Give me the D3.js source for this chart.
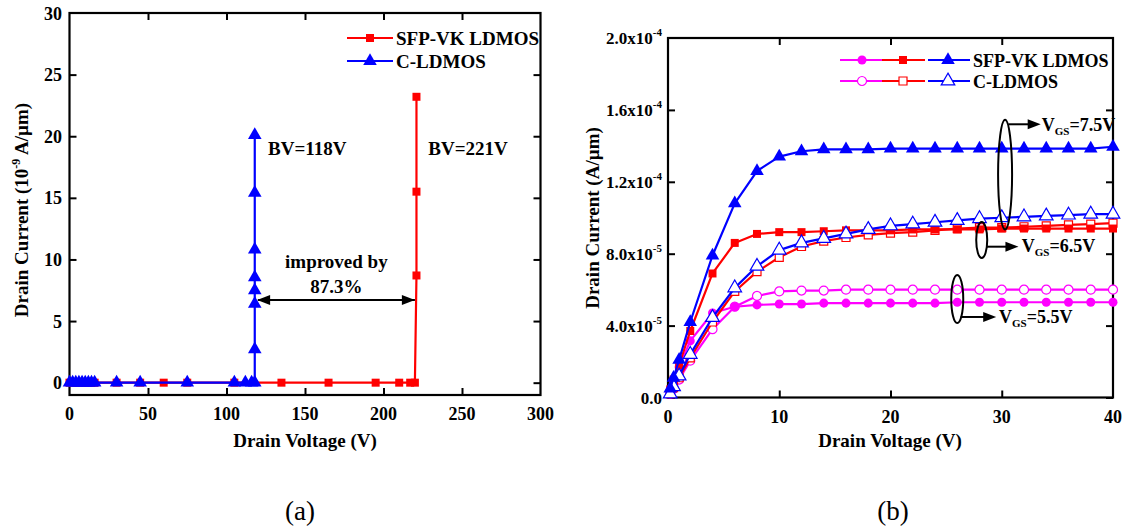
<!DOCTYPE html>
<html>
<head>
<meta charset="utf-8">
<script src="https://cdn.jsdelivr.net/npm/d3@7"></script>
<style>
  html, body { margin: 0; padding: 0; background: #ffffff; }
  svg { display: block; }
  text { font-family: "Liberation Serif", "Times New Roman", serif; }
</style>
</head>
<body>
<svg id="fig" width="1126" height="526"></svg>
<script>
// ---------- (a) breakdown characteristics ----------
const bvSfpVoltage = [0, 2, 4, 6, 8, 10, 12, 14, 16, 30, 45, 60, 75, 105, 135, 165, 195, 210, 217, 220, 221, 221, 221];
const bvSfpCurrent = [0, 0, 0, 0, 0, 0, 0, 0, 0, 0, 0, 0, 0, 0, 0, 0, 0, 0, 0, 0, 8.7, 15.5, 23.2];
const bvConvVoltage = [0, 2, 4, 6, 8, 10, 12, 14, 16, 30, 45, 75, 105, 112, 116, 118, 118, 118, 118, 118, 118, 118, 118];
const bvConvCurrent = [0, 0, 0, 0, 0, 0, 0, 0, 0, 0, 0, 0, 0, 0, 0, 0, 2.7, 6.4, 7.5, 8.55, 10.8, 15.4, 20.1];
const aXTicks = [0, 50, 100, 150, 200, 250, 300];
const aYTicks = [0, 5, 10, 15, 20, 25, 30];
const aLegend = ["SFP-VK LDMOS", "C-LDMOS"];

// ---------- (b) output characteristics (current in A/µm) ----------
const vdsPoints = [0.2, 0.5, 1, 2, 4, 6, 8, 10, 12, 14, 16, 18, 20, 22, 24, 26, 28, 30, 32, 34, 36, 38, 40];
const sfpVgs75 = [0.5, 1.1, 2.1, 4.2, 7.9, 10.8, 12.6, 13.4, 13.7, 13.8, 13.8, 13.8, 13.85, 13.85, 13.85, 13.85, 13.85, 13.85, 13.85, 13.85, 13.85, 13.85, 13.95].map(v => v * 1e-5);
const sfpVgs65 = [0.45, 1.0, 1.8, 3.7, 6.9, 8.6, 9.1, 9.2, 9.2, 9.25, 9.3, 9.3, 9.3, 9.35, 9.35, 9.35, 9.35, 9.4, 9.4, 9.4, 9.4, 9.4, 9.4].map(v => v * 1e-5);
const sfpVgs55 = [0.4, 0.9, 1.7, 3.15, 4.7, 5.05, 5.15, 5.2, 5.2, 5.25, 5.25, 5.25, 5.25, 5.25, 5.25, 5.3, 5.3, 5.3, 5.3, 5.3, 5.3, 5.3, 5.3].map(v => v * 1e-5);
const convVgs75 = [0.2, 0.6, 1.2, 2.4, 4.45, 6.1, 7.3, 8.2, 8.6, 8.85, 9.1, 9.35, 9.55, 9.65, 9.75, 9.85, 9.95, 10.0, 10.05, 10.1, 10.15, 10.2, 10.2].map(v => v * 1e-5);
const convVgs65 = [0.2, 0.55, 1.1, 2.2, 4.2, 5.9, 7.0, 7.8, 8.4, 8.7, 8.9, 9.05, 9.15, 9.2, 9.3, 9.4, 9.45, 9.45, 9.5, 9.55, 9.6, 9.65, 9.7].map(v => v * 1e-5);
const convVgs55 = [0.2, 0.5, 1.0, 2.05, 3.8, 5.05, 5.65, 5.9, 5.95, 5.95, 6.0, 6.0, 6.0, 6.0, 6.0, 6.0, 6.0, 6.0, 6.0, 6.0, 6.0, 6.0, 6.0].map(v => v * 1e-5);
const bXTicks = [0, 10, 20, 30, 40];
const bYTicks = [0, 4e-5, 8e-5, 1.2e-4, 1.6e-4, 2e-4];
const bYTickMantissa = ["0.0", "4.0x10", "8.0x10", "1.2x10", "1.6x10", "2.0x10"];
const bYTickExponent = ["", "-5", "-5", "-4", "-4", "-4"];
const bLegend = ["SFP-VK LDMOS", "C-LDMOS"];
const vgsLabels = ["7.5V", "6.5V", "5.5V"];

const RED = "#ff0000", BLUE = "#0000ff", MAG = "#ff00ff";
const FS = 19;
const svg = d3.select("#fig");
svg.append("rect").attr("width", 1126).attr("height", 526).attr("fill", "#ffffff");

const sym = {
  square: d3.symbol().type(d3.symbolSquare).size(64),
  triangle: d3.symbol().type(d3.symbolTriangle).size(80),
  circle: d3.symbol().type(d3.symbolCircle).size(64)
};

function drawSeries(g, x, y, xs, ys, color, shape, open) {
  const pts = xs.map((v, i) => [v, ys[i]]);
  g.append("path").datum(pts)
    .attr("fill", "none").attr("stroke", color).attr("stroke-width", 2.2)
    .attr("stroke-linejoin", "round")
    .attr("d", d3.line().x(d => x(d[0])).y(d => y(d[1])));
  g.selectAll(null).data(pts).enter().append("path")
    .attr("d", sym[shape])
    .attr("transform", d => `translate(${x(d[0])},${y(d[1])})`)
    .attr("fill", open ? "#ffffff" : color)
    .attr("stroke", color).attr("stroke-width", open ? 1.2 : 0);
}

function frame(g, x, y, xTicks, yTicks, labelSize) {
  const [x0, x1] = x.range(), [y0, y1] = y.range();
  const inner = xTicks.filter(t => t !== x.domain()[0] && t !== x.domain()[1]);
  const innerY = yTicks.filter(t => y(t) > y1 + 1);
  const ax = g.append("g").attr("class", "axes");
  ax.append("g").attr("transform", `translate(0,${y0})`)
    .call(d3.axisBottom(x).tickValues(inner).tickSize(-7).tickFormat(""))
    .call(s => s.select(".domain").remove());
  ax.append("g").attr("transform", `translate(0,${y1})`)
    .call(d3.axisTop(x).tickValues(inner).tickSize(-7).tickFormat(""))
    .call(s => s.select(".domain").remove());
  ax.append("g").attr("transform", `translate(${x0},0)`)
    .call(d3.axisLeft(y).tickValues(innerY).tickSize(-7).tickFormat(""))
    .call(s => s.select(".domain").remove());
  ax.append("g").attr("transform", `translate(${x1},0)`)
    .call(d3.axisRight(y).tickValues(innerY).tickSize(-7).tickFormat(""))
    .call(s => s.select(".domain").remove());
  ax.selectAll(".tick line").attr("stroke", "#000").attr("stroke-width", 2);
  ax.append("rect").attr("x", x0).attr("y", y1).attr("width", x1 - x0).attr("height", y0 - y1)
    .attr("fill", "none").attr("stroke", "#000").attr("stroke-width", 2.2);
  // x tick labels
  g.selectAll(null).data(xTicks).enter().append("text")
    .attr("x", d => x(d)).attr("y", y0 + 25)
    .attr("text-anchor", "middle").attr("font-size", labelSize).attr("font-weight", "bold")
    .text(d => d);
}

function arrowHead(g, tipX, tipY, dir) {
  const L = 13, W = 5;
  g.append("path")
    .attr("d", `M${tipX},${tipY} L${tipX - dir * L},${tipY - W} L${tipX - dir * L},${tipY + W} Z`)
    .attr("fill", "#000");
}

// ================= Panel (a) =================
{
  const x = d3.scaleLinear().domain([0, 300]).range([69.5, 540.5]);
  const y = d3.scaleLinear().domain([-1, 30]).range([395, 13]);
  const g = svg.append("g");
  frame(g, x, y, aXTicks, aYTicks, 18);
  g.selectAll(null).data(aYTicks).enter().append("text")
    .attr("x", 62).attr("y", d => y(d) + 6.5)
    .attr("text-anchor", "end").attr("font-size", 18).attr("font-weight", "bold")
    .text(d => d);

  const data = g.append("g");
  drawSeries(data, x, y, bvSfpVoltage, bvSfpCurrent, RED, "square", false);
  drawSeries(data, x, y, bvConvVoltage, bvConvCurrent, BLUE, "triangle", false);

  // axis titles
  g.append("text").attr("x", 305).attr("y", 447).attr("text-anchor", "middle")
    .attr("font-size", FS).attr("font-weight", "bold").text("Drain Voltage (V)");
  const yt = g.append("text").attr("transform", "translate(28,210) rotate(-90)")
    .attr("text-anchor", "middle").attr("font-size", FS).attr("font-weight", "bold");
  yt.append("tspan").text("Drain Current (10");
  yt.append("tspan").attr("dy", -8).attr("font-size", 12).text("-9");
  yt.append("tspan").attr("dy", 8).text(" A/µm)");

  // legend
  const leg = g.append("g");
  [[RED, "square"], [BLUE, "triangle"]].forEach(([c, s], i) => {
    const ly = 38 + i * 23;
    leg.append("line").attr("x1", 347).attr("x2", 393).attr("y1", ly).attr("y2", ly)
      .attr("stroke", c).attr("stroke-width", 2.2);
    leg.append("path").attr("d", sym[s]).attr("transform", `translate(370,${ly})`).attr("fill", c);
    leg.append("text").attr("x", 396).attr("y", ly + 6.5).attr("font-size", FS)
      .attr("font-weight", "bold").text(aLegend[i]);
  });

  // annotations
  g.append("text").attr("x", x(126.5)).attr("y", y(18.5)).attr("font-size", FS)
    .attr("font-weight", "bold").text("BV=118V");
  g.append("text").attr("x", x(228.5)).attr("y", y(18.5)).attr("font-size", FS)
    .attr("font-weight", "bold").text("BV=221V");
  g.append("text").attr("x", x(170)).attr("y", y(9.3)).attr("text-anchor", "middle")
    .attr("font-size", FS).attr("font-weight", "bold").text("improved by");
  g.append("text").attr("x", x(170)).attr("y", y(7.3)).attr("text-anchor", "middle")
    .attr("font-size", FS).attr("font-weight", "bold").text("87.3%");
  const ay = y(6.7);
  g.append("line").attr("x1", x(120)).attr("x2", x(220)).attr("y1", ay).attr("y2", ay)
    .attr("stroke", "#000").attr("stroke-width", 2);
  arrowHead(g, x(119.5), ay, -1);
  arrowHead(g, x(220), ay, 1);

  svg.append("text").attr("x", 300).attr("y", 520).attr("text-anchor", "middle")
    .attr("font-size", 27).text("(a)");
}

// ================= Panel (b) =================
{
  const x = d3.scaleLinear().domain([0, 40]).range([668, 1113]);
  const y = d3.scaleLinear().domain([0, 2e-4]).range([397.5, 38]);
  const g = svg.append("g");
  frame(g, x, y, bXTicks, bYTicks, 18);
  bYTicks.forEach((t, i) => {
    const tx = g.append("text").attr("x", 662).attr("y", y(t) + 6)
      .attr("text-anchor", "end").attr("font-size", 17).attr("font-weight", "bold");
    tx.append("tspan").text(bYTickMantissa[i]);
    if (bYTickExponent[i]) tx.append("tspan").attr("dy", -8).attr("font-size", 11).text(bYTickExponent[i]);
  });

  const data = g.append("g");
  drawSeries(data, x, y, vdsPoints, convVgs55, MAG, "circle", true);
  drawSeries(data, x, y, vdsPoints, sfpVgs55, MAG, "circle", false);
  drawSeries(data, x, y, vdsPoints, convVgs65, RED, "square", true);
  drawSeries(data, x, y, vdsPoints, sfpVgs65, RED, "square", false);
  drawSeries(data, x, y, vdsPoints, convVgs75, BLUE, "triangle", true);
  drawSeries(data, x, y, vdsPoints, sfpVgs75, BLUE, "triangle", false);

  g.append("text").attr("x", 890).attr("y", 447).attr("text-anchor", "middle")
    .attr("font-size", FS).attr("font-weight", "bold").text("Drain Voltage (V)");
  g.append("text").attr("transform", "translate(599,218) rotate(-90)")
    .attr("text-anchor", "middle").attr("font-size", FS).attr("font-weight", "bold")
    .text("Drain Current (A/µm)");

  // legend: three colour segments per row, one per gate bias
  const leg = g.append("g");
  const segs = [[MAG, "circle", 840, 882, 862], [RED, "square", 882, 925, 903], [BLUE, "triangle", 928, 970, 948]];
  [false, true].forEach((open, i) => {
    const ly = 60 + i * 21;
    segs.forEach(([c, s, a, b, m]) => {
      leg.append("line").attr("x1", a).attr("x2", b).attr("y1", ly).attr("y2", ly)
        .attr("stroke", c).attr("stroke-width", 2.2);
      leg.append("path").attr("d", sym[s]).attr("transform", `translate(${m},${ly})`)
        .attr("fill", open ? "#ffffff" : c).attr("stroke", c).attr("stroke-width", open ? 1.2 : 0);
    });
    leg.append("text").attr("x", 973).attr("y", ly + 6.5).attr("font-size", 18)
      .attr("font-weight", "bold").text(bLegend[i]);
  });

  // gate-bias annotations: ellipse around curve pair, arrow, label
  const notes = [
    { cx: 30.3, cy: 12.4e-5, rx: 7, ry: 3.05e-5, ay: 15.2e-5, a0: 30.6, a1: 33.5, tx: 33.6, ty: 14.8e-5 },
    { cx: 28.2, cy: 8.76e-5, rx: 5.5, ry: 1.0e-5, ay: 8.39e-5, a0: 28.6, a1: 31.5, tx: 31.8, ty: 8.1e-5 },
    { cx: 26.0, cy: 5.48e-5, rx: 6, ry: 1.34e-5, ay: 4.48e-5, a0: 26.3, a1: 29.5, tx: 29.75, ty: 4.14e-5 }
  ];
  notes.forEach((n, i) => {
    g.append("ellipse").attr("cx", x(n.cx)).attr("cy", y(n.cy)).attr("rx", n.rx)
      .attr("ry", y(0) - y(n.ry)).attr("fill", "none").attr("stroke", "#000").attr("stroke-width", 2);
    g.append("line").attr("x1", x(n.a0)).attr("x2", x(n.a1) - 8).attr("y1", y(n.ay)).attr("y2", y(n.ay))
      .attr("stroke", "#000").attr("stroke-width", 2);
    arrowHead(g, x(n.a1), y(n.ay), 1);
    const t = g.append("text").attr("x", x(n.tx)).attr("y", y(n.ty)).attr("font-size", 18)
      .attr("font-weight", "bold");
    t.append("tspan").text("V");
    t.append("tspan").attr("dy", 4).attr("font-size", 11).text("GS");
    t.append("tspan").attr("dy", -4).text("=" + vgsLabels[i]);
  });

  svg.append("text").attr("x", 893).attr("y", 520).attr("text-anchor", "middle")
    .attr("font-size", 27).text("(b)");
}
</script>
</body>
</html>
